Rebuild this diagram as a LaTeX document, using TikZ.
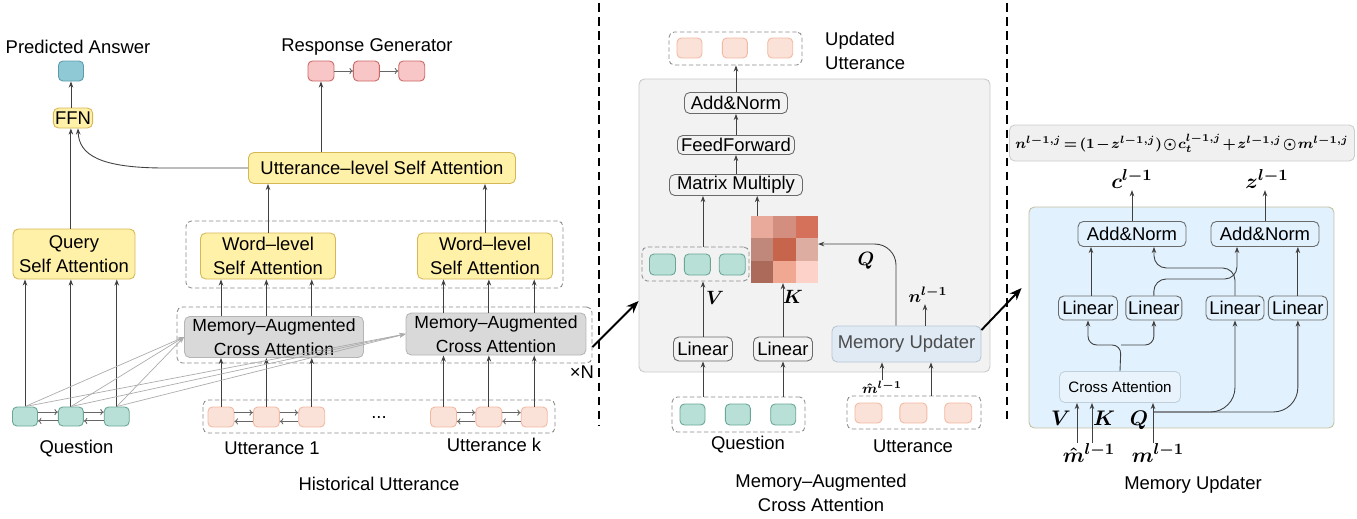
\documentclass[tikz,border=0pt]{standalone}
\usepackage{fontspec}
\setmainfont{Liberation Sans}
\usepackage{amsmath}
\usepackage{bm}
\usetikzlibrary{arrows.meta,positioning}

\definecolor{yfill}{HTML}{FFF1A8}
\definecolor{yline}{HTML}{D6B656}
\definecolor{qfill}{HTML}{B8E0D6}
\definecolor{qline}{HTML}{6AA596}
\definecolor{ufill}{HTML}{FBE2D8}
\definecolor{uline}{HTML}{F2B9A2}
\definecolor{rfill}{HTML}{F8C6C6}
\definecolor{rline}{HTML}{CC6666}
\definecolor{ansfill}{HTML}{8FC9D5}
\definecolor{ansline}{HTML}{5C9CAB}
\definecolor{gfill}{HTML}{D9D9D9}
\definecolor{gline}{HTML}{B5B5B5}
\definecolor{oline}{HTML}{6A6A6A}
\definecolor{grpline}{HTML}{8C8C8C}
\definecolor{bgfill}{HTML}{F2F2F2}
\definecolor{bgline}{HTML}{CACACA}
\definecolor{mfill}{HTML}{DFEAF5}
\definecolor{mline}{HTML}{B9C7D4}
\definecolor{rpfill}{HTML}{E1F1FD}
\definecolor{rpline}{HTML}{C6C0A5}
\definecolor{cafill}{HTML}{E9F3FB}
\definecolor{caline}{HTML}{BFCFDC}
\definecolor{ffill}{HTML}{F0F0F0}
\definecolor{fline}{HTML}{CDCDCD}
\definecolor{arrline}{HTML}{404040}
\definecolor{hc11}{HTML}{E9AA9B}
\definecolor{hc12}{HTML}{D48E80}
\definecolor{hc13}{HTML}{D5705A}
\definecolor{hc21}{HTML}{C0887A}
\definecolor{hc22}{HTML}{C6644C}
\definecolor{hc23}{HTML}{DDADA2}
\definecolor{hc31}{HTML}{AB6A5A}
\definecolor{hc32}{HTML}{F0A892}
\definecolor{hc33}{HTML}{FDD2C8}

\newcommand{\mathlbl}[1]{{\boldmath$#1$}}

\tikzset{
  tok/.style={draw, rounded corners=2.5pt, inner sep=0pt, line width=0.5pt, minimum width=0.52cm, minimum height=0.4cm},
  qtok/.style={tok, fill=qfill, draw=qline},
  utok/.style={tok, fill=ufill, draw=uline},
  rtok/.style={tok, fill=rfill, draw=rline},
  atok/.style={tok, fill=ansfill, draw=ansline},
  attn/.style={draw=yline, fill=yfill, rounded corners=3pt, align=center, inner sep=1pt, line width=0.5pt},
  macabox/.style={draw=gline, fill=gfill, rounded corners=3pt, align=center, inner sep=1pt, line width=0.5pt, font=\fontsize{10}{13.5}\selectfont},
  opbox/.style={draw=oline, rounded corners=3pt, inner sep=1pt, line width=0.5pt},
  grp/.style={draw=grpline, dash pattern=on 2.5pt off 1.5pt, rounded corners=3pt, line width=0.5pt},
  arr/.style={draw=arrline, line width=0.5pt, -{Stealth[length=3.5pt,width=2.6pt]}},
  feed/.style={draw=gray!65, line width=0.4pt, -{Stealth[length=3.5pt,width=2.6pt]}},
  seq/.style={draw=gray!80!black, line width=0.5pt, -{To[length=2pt,width=3.5pt]}},
  bigarr/.style={draw=black, line width=1.1pt, -{Stealth[length=7pt,width=5.5pt]}},
  sepline/.style={draw=black, line width=0.8pt, dash pattern=on 5pt off 3pt},
  cell/.style={minimum size=0.447cm, inner sep=0pt, outer sep=0pt},
  mlbl/.style={anchor=base, inner sep=1pt},
}

\begin{document}
\begin{tikzpicture}[x=0.02cm, y=-0.02cm, font=\fontsize{10.5}{13.8}\selectfont]
        \useasboundingbox (0,0) rectangle (1357,518);

        % Separators between the three parts
        \draw[sepline] (599,3) -- (599,426);
        \draw[sepline] (1007,3) -- (1007,420);

        % Left part: outputs
        \node (pa) at (78,47) {Predicted Answer};
        \node[atok, minimum width=0.5cm] (ans) at (71,71) {};
        \node[attn, minimum width=0.72cm, minimum height=0.4cm] (ffn) at (73,118) {FFN};
        \node (rg) at (367,47) {Response Generator};
        \node[rtok] (r1) at (321,71) {};
        \node[rtok, right=0.37cm of r1] (r2) {};
        \node[rtok, right=0.37cm of r2] (r3) {};
        \node[attn, minimum width=5.34cm, minimum height=0.62cm] (usa) at (382,168) {Utterance–level Self Attention};
        \node[attn, minimum width=2.44cm, minimum height=1cm] (qsa) at (74,254) {Query\\Self Attention};

        % Word-level and cross attention blocks
        \node[grp, minimum width=7.54cm, minimum height=1.34cm] (wlg) at (374.5,254.5) {};
        \node[attn, minimum width=2.7cm, minimum height=0.92cm] (wl1) at (268,256) {Word–level\\Self Attention};
        \node[attn, minimum width=2.7cm, minimum height=0.92cm] (wl2) at (485,256) {Word–level\\Self Attention};
        \node[grp, minimum width=8.3cm, minimum height=1.12cm] (macag) at (384.5,335) {};
        \node[macabox, minimum width=3.58cm, minimum height=0.82cm] (maca1) at (274,337) {Memory–Augmented\\Cross Attention};
        \node[macabox, minimum width=3.6cm, minimum height=0.84cm] (maca2) at (496,334) {Memory–Augmented\\Cross Attention};
        \node (xn) at (582,372) {×N};

        % Question and utterance tokens
        \node[qtok, minimum width=0.5cm, minimum height=0.38cm] (q1) at (25,416.5) {};
        \node[qtok, minimum width=0.5cm, minimum height=0.38cm, right=0.4cm of q1] (q2) {};
        \node[qtok, minimum width=0.5cm, minimum height=0.38cm, right=0.4cm of q2] (q3) {};
        \node[grp, minimum width=7.04cm, minimum height=0.66cm] (hug) at (379,416.5) {};
        \node[utok] (u11) at (221,417) {};
        \node[utok, right=0.37cm of u11] (u12) {};
        \node[utok, right=0.37cm of u12] (u13) {};
        \node[utok] (u21) at (443.5,417) {};
        \node[utok, right=0.37cm of u21] (u22) {};
        \node[utok, right=0.37cm of u22] (u23) {};
        \node (dots) at (379,418) {...};
        \node (ql) at (76.5,449) {Question};
        \node (u1l) at (272,448) {Utterance 1};
        \node (ukl) at (494,445) {Utterance k};
        \node (hul) at (379,484) {Historical Utterance};

        % Left part: connections
        \draw[arr] (ffn.north -| ans) -- (ans);
        \draw[arr] (qsa.north -| q2) -- (ffn.south -| q2);
        \draw[arr] (usa.west) -- (165,168) .. controls (100,168) and (79,155) .. ([xshift=0.1cm]ffn.south);
        \draw[arr] (usa.north -| r1) -- (r1);
        \draw[seq] (r1) -- (r2);
        \draw[seq] (r2) -- (r3);
        \draw[arr] (wl1.north) -- (wl1.north |- usa.south);
        \draw[arr] (wl2.north) -- (wl2.north |- usa.south);
        \draw[arr] (u11 |- maca1.north) -- (u11 |- wl1.south);
        \draw[arr] (u12 |- maca1.north) -- (u12 |- wl1.south);
        \draw[arr] (u13 |- maca1.north) -- (u13 |- wl1.south);
        \draw[arr] (u21 |- maca2.north) -- (u21 |- wl2.south);
        \draw[arr] (u22 |- maca2.north) -- (u22 |- wl2.south);
        \draw[arr] (u23 |- maca2.north) -- (u23 |- wl2.south);
        \draw[arr] (u11) -- (u11 |- maca1.south);
        \draw[arr] (u12) -- (u12 |- maca1.south);
        \draw[arr] (u13) -- (u13 |- maca1.south);
        \draw[arr] (u21) -- (u21 |- maca2.south);
        \draw[arr] (u22) -- (u22 |- maca2.south);
        \draw[arr] (u23) -- (u23 |- maca2.south);
        \draw[arr] (q1) -- (q1 |- qsa.south);
        \draw[arr] (q2) -- (q2 |- qsa.south);
        \draw[arr] (q3) -- (q3 |- qsa.south);
        \draw[feed] (q1.north) -- (maca1.west);
        \draw[feed] (q2.north) -- (maca1.west);
        \draw[feed] (q3.north) -- (maca1.west);
        \draw[feed] (q1.north) -- (maca2.west);
        \draw[feed] (q2.north) -- (maca2.west);
        \draw[feed] (q3.north) -- (maca2.west);
        \draw[seq] ([yshift=2.5pt]q1.east) -- ([yshift=2.5pt]q2.west);
        \draw[seq] ([yshift=-2.5pt]q2.west) -- ([yshift=-2.5pt]q1.east);
        \draw[seq] ([yshift=2.5pt]q2.east) -- ([yshift=2.5pt]q3.west);
        \draw[seq] ([yshift=-2.5pt]q3.west) -- ([yshift=-2.5pt]q2.east);
        \draw[seq] ([yshift=2.5pt]u11.east) -- ([yshift=2.5pt]u12.west);
        \draw[seq] ([yshift=-2.5pt]u12.west) -- ([yshift=-2.5pt]u11.east);
        \draw[seq] ([yshift=2.5pt]u12.east) -- ([yshift=2.5pt]u13.west);
        \draw[seq] ([yshift=-2.5pt]u13.west) -- ([yshift=-2.5pt]u12.east);
        \draw[seq] ([yshift=2.5pt]u21.east) -- ([yshift=2.5pt]u22.west);
        \draw[seq] ([yshift=-2.5pt]u22.west) -- ([yshift=-2.5pt]u21.east);
        \draw[seq] ([yshift=2.5pt]u22.east) -- ([yshift=2.5pt]u23.west);
        \draw[seq] ([yshift=-2.5pt]u23.west) -- ([yshift=-2.5pt]u22.east);

        % Middle part: memory-augmented cross attention
        \node[draw=bgline, fill=bgfill, rounded corners=3pt, line width=0.5pt, minimum width=7.02cm, minimum height=5.86cm] (midbg) at (814.5,225.5) {};
        \node[grp, minimum width=2.66cm, minimum height=0.66cm] (updg) at (735.5,48.5) {};
        \node[utok, minimum width=0.5cm] (p1) at (689.5,48) {};
        \node[utok, minimum width=0.5cm, right=0.39cm of p1] (p2) {};
        \node[utok, minimum width=0.5cm, right=0.39cm of p2] (p3) {};
        \node[align=left, anchor=west] (updl) at (819,51) {Updated\\Utterance};
        \node[opbox, minimum width=2.06cm, minimum height=0.42cm] (an) at (736,103) {Add\&Norm};
        \node[opbox, minimum width=2.34cm, minimum height=0.38cm] (ff) at (736,145) {FeedForward};
        \node[opbox, minimum width=2.66cm, minimum height=0.42cm] (mm) at (736,185) {Matrix Multiply};

        % Attention map
        \node[cell, fill=hc11] (h11) at (762.2,227.2) {};
        \node[cell, fill=hc12, right=0pt of h11] (h12) {};
        \node[cell, fill=hc13, right=0pt of h12] (h13) {};
        \node[cell, fill=hc21, below=0pt of h11] (h21) {};
        \node[cell, fill=hc22, right=0pt of h21] (h22) {};
        \node[cell, fill=hc23, right=0pt of h22] (h23) {};
        \node[cell, fill=hc31, below=0pt of h21] (h31) {};
        \node[cell, fill=hc32, right=0pt of h31] (h32) {};
        \node[cell, fill=hc33, right=0pt of h32] (h33) {};

        \node[grp, minimum width=2.14cm, minimum height=0.68cm] (vg) at (695.5,264) {};
        \node[qtok, minimum width=0.52cm, minimum height=0.42cm] (v1) at (662.5,264.5) {};
        \node[qtok, minimum width=0.52cm, minimum height=0.42cm, right=0.16cm of v1] (v2) {};
        \node[qtok, minimum width=0.52cm, minimum height=0.42cm, right=0.16cm of v2] (v3) {};
        \node[opbox, minimum width=1.18cm, minimum height=0.48cm] (lin1) at (703,349) {Linear};
        \node[opbox, minimum width=1.18cm, minimum height=0.48cm] (lin2) at (783,349) {Linear};
        \node[mlbl] (vlbl) at (715,304) {\fontsize{11}{13}\selectfont\mathlbl{V}};
        \node[mlbl] (klbl) at (793,303) {\fontsize{11}{13}\selectfont\mathlbl{K}};
        \node[mlbl] (qlbl) at (866,265) {\fontsize{11}{13}\selectfont\mathlbl{Q}};
        \node[draw=mline, fill=mfill, text=black!70, rounded corners=3pt, line width=0.5pt, minimum width=2.94cm, minimum height=0.72cm] (mu) at (906.5,344) {Memory Updater};
        \node[mlbl] (nlbl) at (928,302) {\fontsize{10}{12}\selectfont\mathlbl{n^{l-1}}};
        \node[mlbl, inner sep=0pt] (mhat) at (882,393) {\fontsize{8.5}{10}\selectfont\mathlbl{\hat{m}^{l-1}}};

        \node[grp, minimum width=2.66cm, minimum height=0.7cm] (qg) at (738.5,414.5) {};
        \node[qtok, minimum width=0.5cm, minimum height=0.42cm] (g1) at (692.5,414.5) {};
        \node[qtok, minimum width=0.5cm, minimum height=0.42cm, right=0.39cm of g1] (g2) {};
        \node[qtok, minimum width=0.5cm, minimum height=0.42cm, right=0.39cm of g2] (g3) {};
        \node[grp, minimum width=2.68cm, minimum height=0.66cm] (ugm) at (914,412.5) {};
        \node[utok, minimum width=0.54cm] (m1) at (868.5,413) {};
        \node[utok, minimum width=0.54cm, right=0.34cm of m1] (m2) {};
        \node[utok, minimum width=0.54cm, right=0.34cm of m2] (m3) {};
        \node (mql) at (748,445) {Question};
        \node (mul) at (913,446) {Utterance};
        \node[align=center] (macl) at (821,493) {Memory–Augmented\\Cross Attention};

        % Middle part: connections
        \draw[arr] (an.north) -- (an.north |- updg.south);
        \draw[arr] (ff) -- (an);
        \draw[arr] (mm) -- (ff);
        \draw[arr] (vg.north -| lin1) -- (mm.south -| lin1);
        \draw[arr] ([xshift=-0.1cm]h11.north) -- ([xshift=-0.1cm]h11.north |- mm.south);
        \draw[arr] (lin1) -- (lin1 |- vg.south);
        \draw[arr] (lin2) -- (lin2 |- h32.south);
        \draw[arr] (qg.north -| lin1) -- (lin1);
        \draw[arr] (qg.north -| lin2) -- (lin2);
        \draw[arr] ([xshift=0.34cm]ugm.north) -- ([xshift=0.34cm]ugm.north |- mu.south);
        \draw[arr] (mhat.north) -- (mhat.north |- mu.south);
        \draw[arr] ([xshift=0.37cm]mu.north) -- ([xshift=0.37cm]mu.north |- nlbl.south);
        \draw[arr, rounded corners=12pt] ([xshift=-0.21cm]mu.north) |- ([yshift=0.11cm]h23.east);

        % Links between the parts
        \draw[bigarr] ([yshift=-0.24cm]macag.east) -- ([yshift=-1.51cm]midbg.west);

        % Right part: memory updater
        \node[draw=fline, fill=ffill, rounded corners=3pt, line width=0.5pt, minimum width=6.28cm, minimum height=0.72cm] (fml) at (1182,143) {\fontsize{8}{9}\selectfont\medmuskip=1.5mu\thickmuskip=2.5mu\mathlbl{n^{l-1,j}=(1-z^{l-1,j})\odot c_t^{l-1,j}+z^{l-1,j}\odot m^{l-1,j}}};
        \node[mlbl] (clbl) at (1132,188) {\fontsize{13}{15}\selectfont\mathlbl{c^{l-1}}};
        \node[mlbl] (zlbl) at (1267,188) {\fontsize{13}{15}\selectfont\mathlbl{z^{l-1}}};
        \node[draw=rpline, fill=rpfill, rounded corners=3pt, line width=0.5pt, minimum width=6.1cm, minimum height=4.42cm] (rp) at (1181.5,317.5) {};
        \node[opbox, minimum width=2.16cm, minimum height=0.5cm] (anl) at (1132,234) {Add\&Norm};
        \node[opbox, minimum width=2.16cm, minimum height=0.5cm] (anr) at (1265,234) {Add\&Norm};
        \node[opbox, minimum width=1.18cm, minimum height=0.48cm] (l1) at (1088,308) {Linear};
        \node[opbox, minimum width=1.12cm, minimum height=0.48cm, right=0.15cm of l1] (l2) {Linear};
        \node[opbox, minimum width=1.16cm, minimum height=0.48cm] (l3) at (1235,308) {Linear};
        \node[opbox, minimum width=1.18cm, minimum height=0.48cm, right=0.07cm of l3] (l4) {Linear};
        \node[draw=caline, fill=cafill, rounded corners=3pt, line width=0.5pt, minimum width=2.42cm, minimum height=0.62cm, font=\fontsize{8.6}{10}\selectfont] (ca) at (1120,387) {Cross Attention};
        \node[mlbl] (rvl) at (1061,425) {\fontsize{12}{14}\selectfont\mathlbl{V}};
        \node[mlbl] (rkl) at (1104,425) {\fontsize{12}{14}\selectfont\mathlbl{K}};
        \node[mlbl] (rql) at (1139,425) {\fontsize{12}{14}\selectfont\mathlbl{Q}};
        \node[mlbl, inner sep=0pt] (mhat2) at (1089,462) {\fontsize{13}{15}\selectfont\mathlbl{\hat{m}^{l-1}}};
        \node[mlbl, inner sep=0pt] (mprev) at (1158,462) {\fontsize{13}{15}\selectfont\mathlbl{m^{l-1}}};
        \node (mupl) at (1193,485) {Memory Updater};

        % Right part: connections
        \draw[arr] (anl.north) -- (anl.north |- clbl.south);
        \draw[arr] (anr.north) -- (anr.north |- zlbl.south);
        \draw[arr] ([xshift=0.06cm]l1.north) -- ([xshift=0.06cm]l1.north |- anl.south);
        \draw[arr] (l4.north) -- (l4.north |- anr.south);
        \draw[arr, rounded corners=7pt] (l2.north) |- (1237,279) -- ([xshift=-0.56cm]anr.south);
        \draw[arr, rounded corners=7pt] (l3.north) |- (1154,268) -- ([xshift=0.44cm]anl.south);
        \coordinate (split) at (1121,345);
        \draw[arr, rounded corners=5pt] (ca.north) -- (split) -| (l1.south);
        \draw[arr, rounded corners=5pt] (split) -| (l2.south);
        \draw[arr] ([xshift=-0.24cm]mhat2.north) -- ([xshift=-0.24cm]mhat2.north |- ca.south);
        \draw[arr] ([xshift=0.06cm]mhat2.north) -- ([xshift=0.06cm]mhat2.north |- ca.south);
        \draw[arr] ([xshift=-0.1cm]mprev.north) -- ([xshift=-0.1cm]mprev.north |- ca.south);
        \coordinate (qsplit) at (1153,412);
        \draw[arr, rounded corners=14pt] (qsplit) -| (l3.south);
        \draw[arr, rounded corners=14pt] (qsplit) -| (l4.south);

        \draw[bigarr] ([yshift=0.28cm]mu.east) -- ([xshift=-0.14cm,yshift=0.59cm]rp.west);
\end{tikzpicture}
\end{document}
